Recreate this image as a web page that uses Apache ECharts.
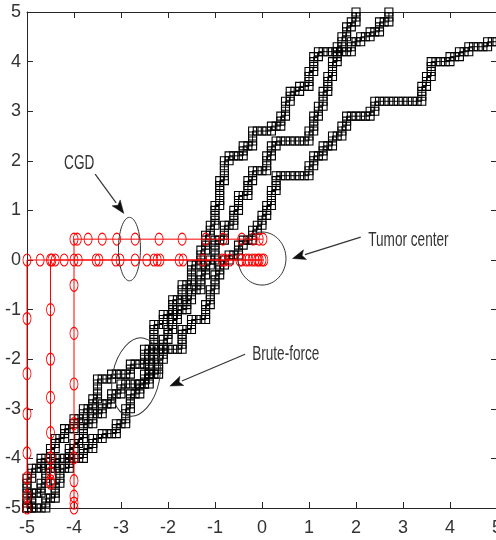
<!DOCTYPE html>
<html>
<head>
<meta charset="utf-8">
<script src="https://cdn.jsdelivr.net/npm/echarts@6/dist/echarts.min.js"></script>
<style>
  html, body { margin: 0; padding: 0; background: #fff; }
  #chart { width: 496px; height: 540px; }
</style>
</head>
<body>
<div id="chart"></div>
<script>
// Axis ticks
const xTicks = [-5, -4, -3, -2, -1, 0, 1, 2, 3, 4, 5];
const yTicks = [-5, -4, -3, -2, -1, 0, 1, 2, 3, 4, 5];

// Brute-force search paths (grid step 0.1)
const bruteA = [[-5,-5],[-5,-4.9],[-5,-4.8],[-5,-4.7],[-5,-4.6],[-5,-4.5],[-5,-4.4],[-4.9,-4.4],[-4.9,-4.3],[-4.9,-4.2],[-4.8,-4.2],[-4.7,-4.2],[-4.7,-4.1],[-4.7,-4],[-4.6,-4],[-4.5,-4],[-4.5,-3.9],[-4.5,-3.8],[-4.4,-3.8],[-4.4,-3.7],[-4.4,-3.6],[-4.3,-3.6],[-4.2,-3.6],[-4.2,-3.5],[-4.2,-3.4],[-4.1,-3.4],[-4,-3.4],[-4,-3.3],[-4,-3.2],[-3.9,-3.2],[-3.8,-3.2],[-3.8,-3.1],[-3.8,-3],[-3.7,-3],[-3.6,-3],[-3.6,-2.9],[-3.6,-2.8],[-3.5,-2.8],[-3.5,-2.7],[-3.5,-2.6],[-3.5,-2.5],[-3.5,-2.4],[-3.4,-2.4],[-3.3,-2.4],[-3.2,-2.4],[-3.2,-2.3],[-3.1,-2.3],[-3,-2.3],[-2.9,-2.3],[-2.8,-2.3],[-2.8,-2.2],[-2.8,-2.1],[-2.7,-2.1],[-2.6,-2.1],[-2.5,-2.1],[-2.5,-2],[-2.5,-1.9],[-2.5,-1.8],[-2.4,-1.8],[-2.3,-1.8],[-2.3,-1.7],[-2.3,-1.6],[-2.3,-1.5],[-2.3,-1.4],[-2.3,-1.3],[-2.2,-1.3],[-2.1,-1.3],[-2.1,-1.2],[-2.1,-1.1],[-2,-1.1],[-1.9,-1.1],[-1.9,-1],[-1.9,-0.9],[-1.9,-0.8],[-1.8,-0.8],[-1.7,-0.8],[-1.7,-0.7],[-1.7,-0.6],[-1.7,-0.5],[-1.6,-0.5],[-1.5,-0.5],[-1.5,-0.4],[-1.5,-0.3],[-1.5,-0.2],[-1.5,-0.1],[-1.4,-0.1],[-1.3,-0.1],[-1.3,0],[-1.3,0.1],[-1.3,0.2],[-1.2,0.2],[-1.2,0.3],[-1.2,0.4],[-1.2,0.5],[-1.1,0.5],[-1.1,0.6],[-1.1,0.7],[-1,0.7],[-1,0.8],[-1,0.9],[-1,1],[-1,1.1],[-0.9,1.1],[-0.9,1.2],[-0.9,1.3],[-0.9,1.4],[-0.9,1.5],[-0.9,1.6],[-0.8,1.6],[-0.8,1.7],[-0.8,1.8],[-0.8,1.9],[-0.8,2],[-0.7,2],[-0.7,2.1],[-0.6,2.1],[-0.5,2.1],[-0.4,2.1],[-0.4,2.2],[-0.4,2.3],[-0.3,2.3],[-0.2,2.3],[-0.2,2.4],[-0.2,2.5],[-0.2,2.6],[-0.1,2.6],[0,2.6],[0.1,2.6],[0.2,2.6],[0.2,2.7],[0.3,2.7],[0.4,2.7],[0.4,2.8],[0.4,2.9],[0.5,2.9],[0.5,3],[0.5,3.1],[0.5,3.2],[0.6,3.2],[0.6,3.3],[0.6,3.4],[0.7,3.4],[0.8,3.4],[0.8,3.5],[0.9,3.5],[1,3.5],[1,3.6],[1,3.7],[1,3.8],[1.1,3.8],[1.1,3.9],[1.1,4],[1.1,4.1],[1.2,4.1],[1.2,4.2],[1.3,4.2],[1.4,4.2],[1.5,4.2],[1.6,4.2],[1.7,4.2],[1.8,4.2],[1.9,4.2],[1.9,4.3],[1.9,4.4],[2,4.4],[2.1,4.4],[2.1,4.5],[2.2,4.5],[2.3,4.5],[2.3,4.6],[2.4,4.6],[2.5,4.6],[2.5,4.7],[2.5,4.8],[2.6,4.8],[2.7,4.8],[2.7,4.9],[2.7,5]];

const bruteB = [[-5,-5],[-4.9,-5],[-4.9,-4.9],[-4.9,-4.8],[-4.9,-4.7],[-4.8,-4.7],[-4.7,-4.7],[-4.7,-4.6],[-4.7,-4.5],[-4.6,-4.5],[-4.6,-4.4],[-4.6,-4.3],[-4.6,-4.2],[-4.5,-4.2],[-4.4,-4.2],[-4.4,-4.1],[-4.4,-4],[-4.3,-4],[-4.2,-4],[-4.1,-4],[-4.1,-3.9],[-4.1,-3.8],[-4,-3.8],[-4,-3.7],[-3.9,-3.7],[-3.9,-3.6],[-3.8,-3.6],[-3.8,-3.5],[-3.8,-3.4],[-3.8,-3.3],[-3.7,-3.3],[-3.6,-3.3],[-3.6,-3.2],[-3.6,-3.1],[-3.5,-3.1],[-3.4,-3.1],[-3.4,-3],[-3.4,-2.9],[-3.3,-2.9],[-3.2,-2.9],[-3.2,-2.8],[-3.2,-2.7],[-3.1,-2.7],[-3,-2.7],[-3,-2.6],[-3,-2.5],[-2.9,-2.5],[-2.8,-2.5],[-2.7,-2.5],[-2.6,-2.5],[-2.5,-2.5],[-2.5,-2.4],[-2.5,-2.3],[-2.4,-2.3],[-2.4,-2.2],[-2.4,-2.1],[-2.4,-2],[-2.3,-2],[-2.3,-1.9],[-2.3,-1.8],[-2.2,-1.8],[-2.1,-1.8],[-2.1,-1.7],[-2.1,-1.6],[-2,-1.6],[-2,-1.5],[-2,-1.4],[-1.9,-1.4],[-1.9,-1.3],[-1.9,-1.2],[-1.8,-1.2],[-1.8,-1.1],[-1.8,-1],[-1.7,-1],[-1.6,-1],[-1.6,-0.9],[-1.6,-0.8],[-1.5,-0.8],[-1.5,-0.7],[-1.5,-0.6],[-1.4,-0.6],[-1.3,-0.6],[-1.3,-0.5],[-1.3,-0.4],[-1.3,-0.3],[-1.2,-0.3],[-1.2,-0.2],[-1.2,-0.1],[-1.1,-0.1],[-1.1,0],[-1,0],[-1,0.1],[-1,0.2],[-1,0.3],[-1,0.4],[-0.9,0.4],[-0.8,0.4],[-0.8,0.5],[-0.8,0.6],[-0.8,0.7],[-0.7,0.7],[-0.6,0.7],[-0.6,0.8],[-0.6,0.9],[-0.6,1],[-0.5,1],[-0.5,1.1],[-0.5,1.2],[-0.5,1.3],[-0.4,1.3],[-0.3,1.3],[-0.3,1.4],[-0.3,1.5],[-0.3,1.6],[-0.2,1.6],[-0.2,1.7],[-0.2,1.8],[-0.1,1.8],[0,1.8],[0.1,1.8],[0.1,1.9],[0.1,2],[0.1,2.1],[0.2,2.1],[0.2,2.2],[0.2,2.3],[0.3,2.3],[0.3,2.4],[0.4,2.4],[0.5,2.4],[0.6,2.4],[0.7,2.4],[0.8,2.4],[0.9,2.4],[1,2.4],[1,2.5],[1,2.6],[1.1,2.6],[1.1,2.7],[1.1,2.8],[1.1,2.9],[1.2,2.9],[1.2,3],[1.2,3.1],[1.3,3.1],[1.3,3.2],[1.3,3.3],[1.3,3.4],[1.4,3.4],[1.4,3.5],[1.4,3.6],[1.4,3.7],[1.5,3.7],[1.5,3.8],[1.5,3.9],[1.5,4],[1.6,4],[1.6,4.1],[1.6,4.2],[1.6,4.3],[1.7,4.3],[1.7,4.4],[1.7,4.5],[1.8,4.5],[1.8,4.6],[1.8,4.7],[1.9,4.7],[1.9,4.8],[2,4.8],[2,4.9],[2,5]];

const bruteC = [[-5,-5],[-4.9,-5],[-4.8,-5],[-4.7,-5],[-4.6,-5],[-4.6,-4.9],[-4.6,-4.8],[-4.5,-4.8],[-4.4,-4.8],[-4.4,-4.7],[-4.4,-4.6],[-4.4,-4.5],[-4.3,-4.5],[-4.3,-4.4],[-4.3,-4.3],[-4.3,-4.2],[-4.2,-4.2],[-4.1,-4.2],[-4.1,-4.1],[-4.1,-4],[-4,-4],[-3.9,-4],[-3.8,-4],[-3.8,-3.9],[-3.8,-3.8],[-3.7,-3.8],[-3.6,-3.8],[-3.6,-3.7],[-3.6,-3.6],[-3.5,-3.6],[-3.4,-3.6],[-3.4,-3.5],[-3.3,-3.5],[-3.2,-3.5],[-3.1,-3.5],[-3.1,-3.4],[-3.1,-3.3],[-3,-3.3],[-2.9,-3.3],[-2.9,-3.2],[-2.9,-3.1],[-2.9,-3],[-2.8,-3],[-2.8,-2.9],[-2.8,-2.8],[-2.8,-2.7],[-2.7,-2.7],[-2.6,-2.7],[-2.6,-2.6],[-2.6,-2.5],[-2.5,-2.5],[-2.4,-2.5],[-2.4,-2.4],[-2.4,-2.3],[-2.3,-2.3],[-2.2,-2.3],[-2.2,-2.2],[-2.2,-2.1],[-2.2,-2],[-2.1,-2],[-2.1,-1.9],[-2.1,-1.8],[-2,-1.8],[-1.9,-1.8],[-1.8,-1.8],[-1.7,-1.8],[-1.7,-1.7],[-1.7,-1.6],[-1.7,-1.5],[-1.7,-1.4],[-1.6,-1.4],[-1.5,-1.4],[-1.5,-1.3],[-1.5,-1.2],[-1.4,-1.2],[-1.3,-1.2],[-1.2,-1.2],[-1.2,-1.1],[-1.2,-1],[-1.2,-0.9],[-1.1,-0.9],[-1.1,-0.8],[-1.1,-0.7],[-1.1,-0.6],[-1,-0.6],[-1,-0.5],[-1,-0.4],[-1,-0.3],[-0.9,-0.3],[-0.9,-0.2],[-0.9,-0.1],[-0.8,-0.1],[-0.8,0],[-0.7,0],[-0.7,0.1],[-0.6,0.1],[-0.5,0.1],[-0.5,0.2],[-0.5,0.3],[-0.4,0.3],[-0.4,0.4],[-0.3,0.4],[-0.2,0.4],[-0.2,0.5],[-0.2,0.6],[-0.1,0.6],[-0.1,0.7],[0,0.7],[0,0.8],[0,0.9],[0.1,0.9],[0.1,1],[0.1,1.1],[0.2,1.1],[0.2,1.2],[0.2,1.3],[0.2,1.4],[0.3,1.4],[0.3,1.5],[0.3,1.6],[0.3,1.7],[0.4,1.7],[0.5,1.7],[0.6,1.7],[0.7,1.7],[0.8,1.7],[0.9,1.7],[1,1.7],[1,1.8],[1,1.9],[1.1,1.9],[1.1,2],[1.1,2.1],[1.2,2.1],[1.3,2.1],[1.3,2.2],[1.3,2.3],[1.4,2.3],[1.5,2.3],[1.5,2.4],[1.5,2.5],[1.6,2.5],[1.7,2.5],[1.7,2.6],[1.7,2.7],[1.8,2.7],[1.8,2.8],[1.8,2.9],[1.9,2.9],[2,2.9],[2.1,2.9],[2.2,2.9],[2.3,2.9],[2.3,3],[2.4,3],[2.4,3.1],[2.4,3.2],[2.5,3.2],[2.6,3.2],[2.7,3.2],[2.8,3.2],[2.9,3.2],[3,3.2],[3.1,3.2],[3.2,3.2],[3.3,3.2],[3.4,3.2],[3.4,3.3],[3.4,3.4],[3.4,3.5],[3.5,3.5],[3.5,3.6],[3.5,3.7],[3.6,3.7],[3.6,3.8],[3.6,3.9],[3.6,4],[3.7,4],[3.8,4],[3.9,4],[4,4],[4,4.1],[4.1,4.1],[4.2,4.1],[4.2,4.2],[4.3,4.2],[4.4,4.2],[4.4,4.3],[4.5,4.3],[4.6,4.3],[4.7,4.3],[4.8,4.3],[4.8,4.4],[4.9,4.4],[5,4.4]];

// Conjugate-gradient descent runs
const cgdRun1 = [[-5,-5],[-5,-4.76],[-5,-4.39],[-5,-3.89],[-5,-3.1],[-5,-2.29],[-5,-1.18],[-5,0],[-4.72,0],[-4.4,0],[-4,0],[-3.47,0],[-3.02,0],[-2.45,0],[-2.23,0],[-1.68,0],[-1.26,0],[-0.79,0],[-0.43,0],[-0.28,0],[-0.15,0],[-0.06,0],[0,0]];
const cgdRun2 = [[-4.5,-4.5],[-4.5,-4.45],[-4.5,-4.29],[-4.5,-3.99],[-4.5,-3.48],[-4.5,-2.77],[-4.5,-2],[-4.5,-1],[-4.5,0],[-4.47,0],[-4.21,0],[-3.91,0],[-3.53,0],[-3.11,0],[-2.7,0],[-2.3,0],[-2.17,0],[-1.76,0],[-0.85,0],[-0.68,0],[-0.47,0],[-0.34,0],[-0.21,0],[-0.09,0],[0.04,0]];
const cgdRun3 = [[-4,-5],[-4,-4.9],[-4,-4.76],[-4,-4.45],[-4,-3.99],[-4,-3.3],[-4,-2.5],[-4,-1.48],[-4,-0.51],[-4,0.42],[-3.93,0.42],[-3.7,0.42],[-3.4,0.42],[-3.09,0.42],[-2.7,0.42],[-2.19,0.42],[-1.7,0.42],[-1.2,0.42],[-0.83,0.42],[-0.43,0.42],[-0.19,0.42],[-0.06,0.42],[0.02,0.42]];

// Annotation labels
const labelCGD = 'CGD';
const labelTumor = 'Tumor center';
const labelBrute = 'Brute-force';

const chart = echarts.init(document.getElementById('chart'), null, { renderer: 'canvas' });

const axisColor = '#262626';
const labelFont = '"Liberation Sans Narrow", "Liberation Sans", Arial, sans-serif';

function valueAxis(pos, showLabel, ticks) {
  return {
    type: 'value', position: pos, min: ticks[0], max: ticks[ticks.length - 1], interval: 1,
    axisLine: { show: true, onZero: false, lineStyle: { color: axisColor, width: 1 } },
    axisTick: { show: true, inside: true, length: 6, lineStyle: { color: axisColor } },
    axisLabel: {
      show: showLabel, color: '#333', fontSize: 18, fontFamily: labelFont,
      margin: (pos === 'bottom') ? 11 : 6, showMinLabel: true, showMaxLabel: true
    },
    splitLine: { show: false }
  };
}

const ellipseSymbol = 'path://M1,0A1,1,0,1,1,-1,0A1,1,0,1,1,1,0Z';

function bruteSeries(data) {
  return {
    type: 'line', data: data, xAxisIndex: 0, yAxisIndex: 0,
    symbol: 'rect', symbolSize: 8, showSymbol: true, showAllSymbol: true,
    clip: false, silent: true, z: 2,
    itemStyle: { color: 'rgba(0,0,0,0)', borderColor: '#000', borderWidth: 1.1 },
    lineStyle: { color: '#000', width: 1 }
  };
}
function cgdSeries(data) {
  return {
    type: 'line', data: data, xAxisIndex: 0, yAxisIndex: 0,
    symbol: ellipseSymbol, symbolSize: [8, 12], showSymbol: true, showAllSymbol: true,
    clip: false, silent: true, z: 3,
    itemStyle: { color: 'rgba(0,0,0,0)', borderColor: '#ff0000', borderWidth: 1 },
    lineStyle: { color: '#ff0000', width: 1 }
  };
}

chart.setOption({
  animation: false,
  backgroundColor: '#fff',
  grid: { left: 27, top: 12, width: 470, height: 496, containLabel: false, outerBoundsMode: 'none' },
  xAxis: [valueAxis('bottom', true, xTicks), valueAxis('top', false, xTicks)],
  yAxis: [valueAxis('left', true, yTicks), valueAxis('right', false, yTicks)],
  series: [
    bruteSeries(bruteA), bruteSeries(bruteB), bruteSeries(bruteC),
    cgdSeries(cgdRun1), cgdSeries(cgdRun2), cgdSeries(cgdRun3)
  ]
});

// Callouts, placed in data coordinates
const px = (p) => chart.convertToPixel({ gridIndex: 0 }, p);
const annColor = '#333';
const annFont = '20px "Liberation Sans", Arial, sans-serif';
const textScale = 0.68;

function ellipseAt(center, rx, ry, rotation) {
  const c = px(center);
  const e = px([center[0] + rx, center[1] + ry]);
  return {
    type: 'ellipse', x: c[0], y: c[1], rotation: rotation || 0, silent: true, z: 10,
    shape: { cx: 0, cy: 0, rx: Math.abs(e[0] - c[0]), ry: Math.abs(e[1] - c[1]) },
    style: { fill: 'none', stroke: annColor, lineWidth: 1 }
  };
}
function arrow(from, to) {
  const a = px(from), b = px(to);
  const dx = b[0] - a[0], dy = b[1] - a[1];
  const len = Math.sqrt(dx * dx + dy * dy);
  const ux = dx / len, uy = dy / len;
  const headLen = 13, headHalf = 5;
  const bx = b[0] - ux * headLen, by = b[1] - uy * headLen;
  return [
    { type: 'line', silent: true, z: 10,
      shape: { x1: a[0], y1: a[1], x2: bx, y2: by },
      style: { stroke: annColor, lineWidth: 1.2 } },
    { type: 'polygon', silent: true, z: 10,
      shape: { points: [[b[0], b[1]], [bx - uy * headHalf, by + ux * headHalf], [bx + ux * 3, by + uy * 3], [bx + uy * headHalf, by - ux * headHalf]] },
      style: { fill: '#111', stroke: '#111', lineWidth: 0.5 } }
  ];
}
function label(text, at, align) {
  const p = px(at);
  return {
    type: 'text', x: p[0], y: p[1], scaleX: textScale, silent: true, z: 10,
    style: { text: text, font: annFont, fill: annColor, align: align, verticalAlign: 'middle' }
  };
}

const graphics = [
  ellipseAt([-2.82, 0.22], 0.234, 0.64, 0),
  ellipseAt([0, 0.03], 0.51, 0.535, 0),
  ellipseAt([-2.68, -2.36], 0.5, 0.8, -0.2),
  label(labelCGD, [-3.89, 1.95], 'center'),
  label(labelTumor, [2.26, 0.40], 'left'),
  label(labelBrute, [-0.21, -1.91], 'left')
].concat(
  arrow([-3.55, 1.73], [-2.94, 0.94]),
  arrow([2.1, 0.46], [0.65, 0.03]),
  arrow([-0.36, -1.9], [-1.96, -2.54])
);

chart.setOption({ graphic: graphics });
</script>
</body>
</html>
